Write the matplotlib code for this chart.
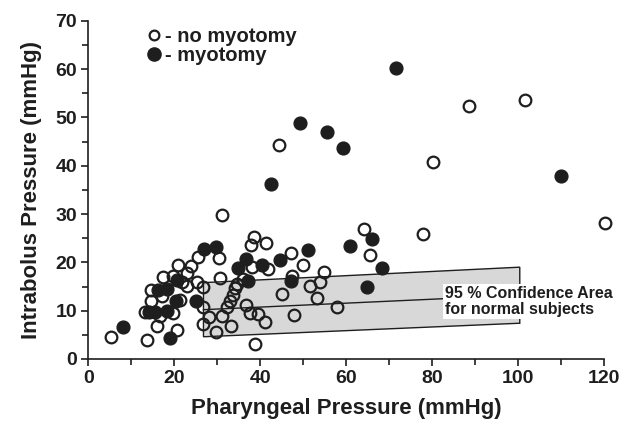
import matplotlib
matplotlib.use('Agg')
import matplotlib.pyplot as plt
from matplotlib.lines import Line2D

plt.rcParams['font.family'] = ['Liberation Sans', 'DejaVu Sans']
plt.rcParams['font.weight'] = 'bold'
plt.rcParams['axes.labelweight'] = 'bold'

# no myotomy (open circles)
open_x = [44.4, 80.2, 88.6, 101.6, 120.2, 77.9, 64.2, 65.5, 31.0,
          47.2, 50.0, 54.9, 47.3, 53.9, 51.6, 45.0, 53.1, 57.9, 47.9, 41.1,
          41.4, 41.7, 38.6, 37.8, 38.0,
          35.9, 34.7, 34.1, 33.6, 33.0, 32.2,
          36.6, 37.6, 39.5, 38.7, 33.3, 31.0, 28.2, 26.8, 29.6, 26.7,
          30.6, 30.3, 25.5, 23.8, 21.7, 22.9, 25.4, 26.8,
          17.4, 19.8, 20.9, 22.9,
          14.7, 17.2, 14.7, 21.3,
          13.2, 19.8, 16.6,
          5.2, 13.6, 20.6, 16.1]
open_y = [44.3, 40.7, 52.3, 53.6, 28.2, 25.9, 27.0, 21.6, 29.8,
          21.9, 19.4, 18.0, 17.2, 16.0, 15.2, 13.4, 12.7, 10.8, 9.0, 7.6,
          23.9, 18.6, 25.2, 23.6, 19.1,
          16.6, 15.6, 14.6, 13.2, 12.1, 10.8,
          11.2, 9.5, 9.3, 3.1, 6.9, 8.8, 8.7, 7.3, 5.6, 10.8,
          16.7, 20.8, 21.2, 19.2, 16.0, 15.1, 16.0, 15.0,
          17.0, 17.2, 19.4, 17.7,
          14.2, 13.1, 11.9, 12.3,
          9.7, 9.6, 8.8,
          4.5, 3.9, 5.9, 6.8]

# myotomy (filled circles)
filled_x = [71.6, 49.3, 55.6, 59.2, 42.4, 110.1,
            51.2, 60.9, 66.0, 68.3, 64.9,
            36.6, 34.8, 40.4, 44.7, 37.1, 47.1,
            26.9, 29.7, 20.7, 25.1, 20.4,
            16.2, 18.2, 14.1, 15.5, 18.3,
            8.1, 19.0]
filled_y = [60.2, 48.8, 47.0, 43.6, 36.3, 37.9,
            22.5, 23.4, 24.8, 18.9, 14.9,
            20.6, 18.9, 19.5, 20.4, 16.2, 16.2,
            22.8, 23.2, 16.4, 11.9, 11.9,
            14.3, 14.5, 9.8, 9.8, 10.0,
            6.7, 4.3]

# 95 % confidence area for normal subjects
band_x = [26.8, 100.4]
band_upper = [15.8, 19.0]
band_lower = [4.6, 7.4]
reg_y = [10.2, 13.2]

ink = '#1e1e1e'

fig = plt.figure(figsize=(6.33, 4.29), dpi=100)
ax = fig.add_axes([0.1395, 0.1632, 0.8147, 0.7885])

poly_x = [band_x[0], band_x[1], band_x[1], band_x[0]]
poly_y = [band_upper[0], band_upper[1], band_lower[1], band_lower[0]]
ax.fill(poly_x, poly_y, facecolor='#d8d8d8', edgecolor=ink, lw=1.0, zorder=1)
ax.plot(band_x, reg_y, color=ink, lw=1.0, zorder=1)

ax.plot(open_x, open_y, 'o', ms=8.4, mfc='none', mec=ink, mew=1.6,
        clip_on=False, zorder=3)
ax.plot(filled_x, filled_y, 'o', ms=9.2, mfc=ink, mec=ink, mew=1.0,
        clip_on=False, zorder=4)

ax.text(82.9, 11.9, '95 % Confidence Area\nfor normal subjects',
        fontsize=11.5, fontweight='bold', color=ink, ha='left', va='center',
        linespacing=1.15,
        bbox=dict(boxstyle='square,pad=0.08', fc='white', ec='none'), zorder=5)

handles = [Line2D([], [], ls='none', marker='o', ms=7, mfc='none', mec=ink, mew=1.6),
           Line2D([], [], ls='none', marker='o', ms=9.5, mfc=ink, mec=ink)]
ax.legend(handles, ['- no myotomy', '- myotomy'], loc='upper left',
          bbox_to_anchor=(0.072, 1.035), frameon=False,
          prop={'size': 14.5, 'weight': 'bold'},
          handletextpad=0.05, labelspacing=0.0, handlelength=1.0,
          labelcolor=ink)

ax.set_xlim(0, 120)
ax.set_ylim(0, 70)
ax.set_xticks(range(0, 121, 20))
ax.set_xticks(range(10, 120, 20), minor=True)
ax.set_yticks(range(0, 71, 10))
ax.set_yticks(range(5, 70, 10), minor=True)
for s in ['top', 'right']:
    ax.spines[s].set_visible(False)
for s in ['left', 'bottom']:
    ax.spines[s].set_color(ink)
    ax.spines[s].set_linewidth(1.2)
ax.tick_params(which='both', direction='out', color=ink, width=1.2, labelsize=14,
               labelcolor=ink)
ax.tick_params(which='major', length=5, pad=3)
ax.tick_params(which='minor', length=4)
for lab in ax.get_xticklabels() + ax.get_yticklabels():
    lab.set_fontweight('bold')

ax.set_xlabel('Pharyngeal Pressure (mmHg)', fontsize=16, fontweight='bold',
              color=ink, labelpad=8)
ax.set_ylabel('Intrabolus Pressure (mmHg)', fontsize=16, fontweight='bold',
              color=ink, labelpad=10)

fig.savefig('out.png', dpi=100)
